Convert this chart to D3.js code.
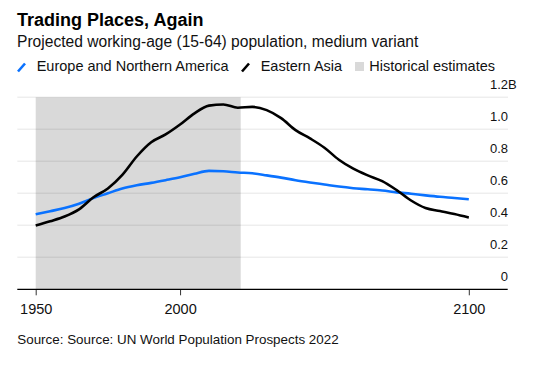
<!DOCTYPE html>
<html>
<head>
<meta charset="utf-8">
<script src="https://cdn.jsdelivr.net/npm/d3@7"></script>
<style>
  html, body { margin: 0; padding: 0; background: #fff; }
  svg { display: block; font-family: "Liberation Sans", Arial, Helvetica, sans-serif; }
</style>
</head>
<body>
<div id="chart"></div>
<script>
const years = [1950,1955,1960,1965,1970,1975,1980,1985,1990,1995,2000,2005,2010,2015,2020,2025,2030,2035,2040,2045,2050,2055,2060,2065,2070,2075,2080,2085,2090,2095,2100];
const europeNA = [0.469,0.488,0.508,0.535,0.570,0.600,0.630,0.650,0.665,0.682,0.700,0.722,0.740,0.738,0.730,0.725,0.712,0.698,0.682,0.668,0.655,0.642,0.632,0.625,0.617,0.606,0.597,0.587,0.578,0.571,0.563];
const easternAsia = [0.398,0.425,0.455,0.500,0.575,0.630,0.715,0.830,0.919,0.968,1.030,1.100,1.148,1.155,1.135,1.140,1.120,1.070,0.995,0.943,0.885,0.810,0.754,0.712,0.676,0.620,0.555,0.508,0.489,0.470,0.448];
const historical = [1950, 2021];
const yTicks = [0, 0.2, 0.4, 0.6, 0.8, 1.0, 1.2];
const yTickLabels = ["0", "0.2", "0.4", "0.6", "0.8", "1.0", "1.2"];
const xTicks = [1950, 2000, 2100];
const seriesNames = ["Europe and Northern America", "Eastern Asia"];
const shadeName = "Historical estimates";
const title = "Trading Places, Again";
const subtitle = "Projected working-age (15-64) population, medium variant";
const source = "Source: Source: UN World Population Prospects 2022";

const W = 535, H = 365;
const BLUE = "#0a72ff", BLACK = "#000", SHADE = "#d9d9d9";
const plotL = 17.3, plotR = 508;

const svg = d3.select("#chart").append("svg").attr("width", W).attr("height", H);

const x = d3.scaleLinear().domain([1950, 2100]).range([35.7, 468.8]);
const y = d3.scaleLinear().domain([0, 1.2]).range([289.3, 97.3]);

// Title / subtitle
svg.append("text").attr("x", 17).attr("y", 26).attr("font-size", 18).attr("font-weight", "bold").attr("fill", "#000").text(title);
svg.append("text").attr("x", 17).attr("y", 46.7).attr("font-size", 15.6).attr("fill", "#111").text(subtitle);

// Legend
const lg = svg.append("g");
lg.append("line").attr("x1", 18).attr("y1", 71.5).attr("x2", 25).attr("y2", 63.5).attr("stroke", BLUE).attr("stroke-width", 2.6);
lg.append("text").attr("x", 36.7).attr("y", 71).attr("font-size", 14.5).attr("fill", "#111").text(seriesNames[0]);
lg.append("line").attr("x1", 242).attr("y1", 71.5).attr("x2", 249).attr("y2", 63.5).attr("stroke", BLACK).attr("stroke-width", 2.6);
lg.append("text").attr("x", 260.7).attr("y", 71).attr("font-size", 14.5).attr("fill", "#111").text(seriesNames[1]);
lg.append("rect").attr("x", 355).attr("y", 62).attr("width", 9).attr("height", 9).attr("fill", SHADE);
lg.append("text").attr("x", 369.3).attr("y", 71).attr("font-size", 14.5).attr("fill", "#111").text(shadeName);

// Shade
svg.append("rect")
  .attr("x", x(historical[0])).attr("y", y(1.2))
  .attr("width", x(historical[1]) - x(historical[0]))
  .attr("height", y(0) - y(1.2))
  .attr("fill", SHADE);

// Gridlines
svg.append("g").selectAll("line").data(yTicks.filter(d => d > 0)).join("line")
  .attr("x1", plotL).attr("x2", plotR)
  .attr("y1", d => y(d)).attr("y2", d => y(d))
  .attr("stroke", "#000").attr("stroke-opacity", 0.065).attr("stroke-width", 1.6);

// Y labels
const yl = svg.append("g");
yl.selectAll("text").data(yTicks).join("text")
  .attr("x", 508).attr("y", d => y(d) - 8.5)
  .attr("text-anchor", "end").attr("font-size", 13).attr("fill", "#111")
  .text((d, i) => yTickLabels[i]);
yl.append("text").attr("x", 508).attr("y", y(1.2) - 8.5).attr("font-size", 13).attr("fill", "#111").text("B");

// X axis
const xAxis = d3.axisBottom(x).tickValues(xTicks).tickFormat(d3.format("d")).tickSize(6).tickPadding(8);
const gx = svg.append("g").attr("transform", `translate(0,${y(0)})`).call(xAxis);
gx.select(".domain").remove();
gx.selectAll(".tick line").attr("stroke", "#333");
gx.selectAll(".tick text").attr("font-size", 14.5).attr("fill", "#111").attr("font-family", "Liberation Sans, Arial, sans-serif");
svg.append("line").attr("x1", plotL).attr("x2", 507.7).attr("y1", y(0)).attr("y2", y(0)).attr("stroke", "#000").attr("stroke-width", 1.2);

// Lines
const line = d3.line().x(d => x(d[0])).y(d => y(d[1])).curve(d3.curveMonotoneX);
svg.append("path").datum(years.map((yr, i) => [yr, europeNA[i]]))
  .attr("d", line).attr("fill", "none").attr("stroke", BLUE).attr("stroke-width", 2.6).attr("stroke-linejoin", "round");
svg.append("path").datum(years.map((yr, i) => [yr, easternAsia[i]]))
  .attr("d", line).attr("fill", "none").attr("stroke", BLACK).attr("stroke-width", 2.6).attr("stroke-linejoin", "round");

// Source
svg.append("text").attr("x", 17.3).attr("y", 344).attr("font-size", 13.4).attr("fill", "#111").text(source);
</script>
</body>
</html>
